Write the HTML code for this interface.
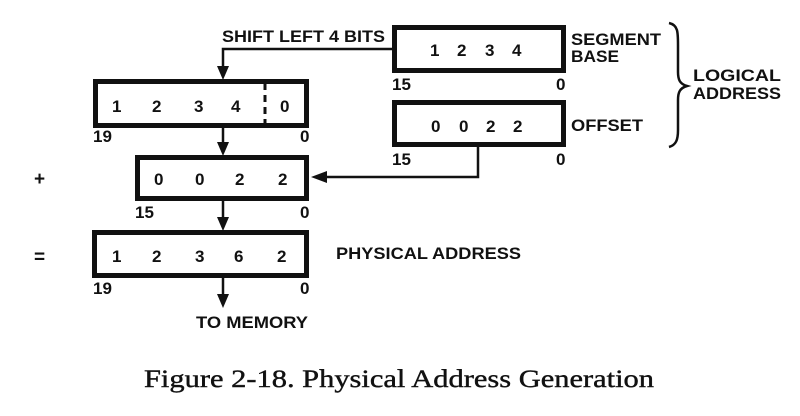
<!DOCTYPE html>
<html><head><style>
html,body{margin:0;padding:0;background:#fff;}
svg{display:block;}
.t{font-family:"Liberation Sans",Arial,sans-serif;font-weight:bold;fill:#111;}
</style></head><body>
<svg width="800" height="416" viewBox="0 0 800 416" xmlns="http://www.w3.org/2000/svg">
<g fill="none" stroke="#111" stroke-width="5">
<rect x="394.5" y="27.5" width="169" height="43"/>
<rect x="95.5" y="81.5" width="211" height="44"/>
<rect x="394.5" y="102.5" width="169" height="42"/>
<rect x="137.5" y="157.5" width="169" height="41"/>
<rect x="94.5" y="232.5" width="212" height="43"/>
</g>
<line x1="265" y1="83" x2="265" y2="124" stroke="#111" stroke-width="3" stroke-dasharray="7,5"/>
<g stroke="#111" stroke-width="2.5" fill="none">
<polyline points="392,49 223,49 223,68" />
<line x1="223" y1="128" x2="223" y2="144"/>
<line x1="223" y1="200" x2="223" y2="219"/>
<line x1="223" y1="278" x2="223" y2="296"/>
<polyline points="478,147 478,177 325,177"/>
</g>
<g fill="#111">
<path d="M217,66 L229,66 L223,80 Z"/>
<path d="M217,142 L229,142 L223,156 Z"/>
<path d="M217,217 L229,217 L223,231 Z"/>
<path d="M217,294 L229,294 L223,308 Z"/>
<path d="M327,171 L327,183 L311,177 Z"/>
</g>
<path d="M669,23 C678,25 678,32 678,45 L678,72 C678,80 680,84 687,86 C680,88 678,92 678,100 L678,130 C678,140 676,145 669,147" fill="none" stroke="#111" stroke-width="2.5"/>
<g class="t" font-size="17">
<text x="222" y="42" textLength="163" lengthAdjust="spacingAndGlyphs">SHIFT LEFT 4 BITS</text>
<text x="430" y="56">1</text><text x="457" y="56">2</text><text x="485" y="56">3</text><text x="512" y="56">4</text>
<text x="571" y="45" textLength="90" lengthAdjust="spacingAndGlyphs">SEGMENT</text><text x="571" y="62" textLength="48" lengthAdjust="spacingAndGlyphs">BASE</text>
<text x="392" y="90">15</text><text x="556" y="90">0</text>
<text x="112" y="112">1</text><text x="152" y="112">2</text><text x="194" y="112">3</text><text x="231" y="112">4</text><text x="280" y="112">0</text>
<text x="93" y="142">19</text><text x="300" y="142">0</text>
<text x="431" y="132">0</text><text x="459" y="132">0</text><text x="486" y="132">2</text><text x="513" y="132">2</text>
<text x="571" y="131" textLength="72" lengthAdjust="spacingAndGlyphs">OFFSET</text>
<text x="392" y="165">15</text><text x="556" y="165">0</text>
<text x="693" y="81" textLength="88" lengthAdjust="spacingAndGlyphs">LOGICAL</text><text x="693" y="99" textLength="88" lengthAdjust="spacingAndGlyphs">ADDRESS</text>
<text x="154" y="185">0</text><text x="195" y="185">0</text><text x="235" y="185">2</text><text x="278" y="185">2</text>
<text x="135" y="218">15</text><text x="300" y="218">0</text>
<text x="112" y="262">1</text><text x="152" y="262">2</text><text x="195" y="262">3</text><text x="234" y="262">6</text><text x="277" y="262">2</text>
<text x="336" y="259" textLength="185" lengthAdjust="spacingAndGlyphs">PHYSICAL ADDRESS</text>
<text x="93" y="294">19</text><text x="300" y="294">0</text>
<text x="196" y="328" textLength="112" lengthAdjust="spacingAndGlyphs">TO MEMORY</text>
<text x="34" y="185" font-size="19">+</text>
<text x="34" y="263" font-size="19">=</text>
</g>
<text x="399" y="387" text-anchor="middle" font-family="'Liberation Serif',serif" font-size="25" fill="#111" stroke="#111" stroke-width="0.4" textLength="510" lengthAdjust="spacingAndGlyphs">Figure 2-18. Physical Address Generation</text>
</svg>
</body></html>
